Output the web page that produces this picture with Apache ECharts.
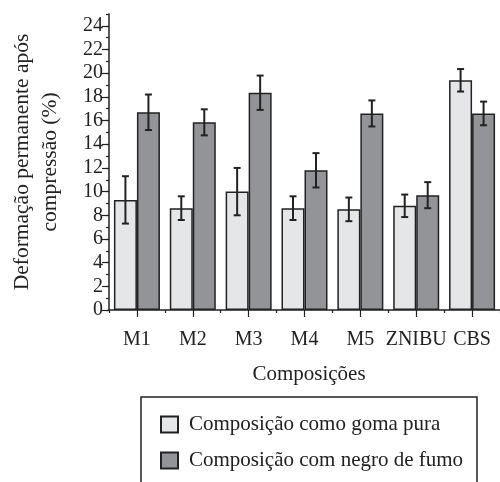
<!DOCTYPE html>
<html><head><meta charset="utf-8">
<script src="https://cdn.jsdelivr.net/npm/echarts@6/dist/echarts.min.js"></script>
<style>html,body{margin:0;padding:0;background:#fff}#c{width:500px;height:482px}</style>
</head><body><div id="c"></div>
<script>
const categories = ['M1','M2','M3','M4','M5','ZNIBU','CBS'];
const seriesNames = ['Composição como goma pura','Composição com negro de fumo'];
const pureValues = [9.3, 8.6, 10.0, 8.6, 8.5, 8.8, 19.4];
const pureErrors = [2.0, 1.0, 2.0, 1.0, 1.0, 0.95, 0.95];
const blackValues = [16.7, 15.85, 18.35, 11.8, 16.6, 9.7, 16.6];
const blackErrors = [1.5, 1.1, 1.45, 1.45, 1.1, 1.1, 1.0];
const yTitleLines = ['Deformação permanente após','compressão (%)'];
const xTitle = 'Composições';

const FONT = '"Liberation Serif","DejaVu Serif",serif';
const INK = '#222';
const BW = 23;

function errData(vals, errs){ return vals.map((v,i)=>[i, v-errs[i], v+errs[i]]); }
function errSeries(vals, errs, off){
  return {
    type:'custom', xAxisIndex:0, yAxisIndex:0, z:10,
    data: errData(vals, errs),
    encode:{x:0, y:[1,2]},
    renderItem:function(params, api){
      const lo = api.coord([api.value(0), api.value(1)]);
      const hi = api.coord([api.value(0), api.value(2)]);
      const x = lo[0] + off;
      const cw = 3.5;
      const st = {stroke:INK, lineWidth:2};
      return {type:'group', children:[
        {type:'line', shape:{x1:x,y1:lo[1],x2:x,y2:hi[1]}, style:st},
        {type:'line', shape:{x1:x-cw,y1:lo[1],x2:x+cw,y2:lo[1]}, style:st},
        {type:'line', shape:{x1:x-cw,y1:hi[1],x2:x+cw,y2:hi[1]}, style:st}
      ]};
    }
  };
}

const chart = echarts.init(document.getElementById('c'));
const gridTop = 14, gridBottom = 172;
const unit = (482 - gridTop - gridBottom) / 25;
chart.setOption({
  animation:false,
  textStyle:{fontFamily:FONT},
  grid:[
    {left:109, right:-8, top:gridTop, bottom:gridBottom},
    {left:109, right:-8, top:gridTop+unit, bottom:gridBottom}
  ],
  xAxis:[
    {type:'category', gridIndex:0, data:categories,
      axisLine:{lineStyle:{color:INK,width:1.5}},
      axisTick:{show:true, length:3, lineStyle:{color:INK,width:1.2}},
      axisLabel:{color:INK, fontFamily:FONT, fontSize:20, margin:20, interval:0}},
    {type:'category', gridIndex:0, data:categories, position:'bottom',
      axisLine:{show:false},
      axisTick:{show:true, alignWithLabel:true, length:7, lineStyle:{color:INK,width:1.2}},
      axisLabel:{show:false}},
    {type:'category', gridIndex:1, data:categories, show:false}
  ],
  yAxis:[
    {type:'value', gridIndex:0, min:0, max:25, interval:1,
      axisLine:{show:true, lineStyle:{color:INK,width:1.5}},
      axisTick:{show:true, length:3, lineStyle:{color:INK,width:1.2}},
      splitLine:{show:false},
      axisLabel:{color:INK, fontFamily:FONT, fontSize:20, margin:6,
        formatter:function(v){return (v%2===0 && v<=24) ? String(v) : '';}}},
    {type:'value', gridIndex:1, min:0, max:24, interval:2,
      axisLine:{show:false},
      axisTick:{show:true, length:7, lineStyle:{color:INK,width:1.2}},
      splitLine:{show:false}, axisLabel:{show:false}}
  ],
  legend:{
    orient:'vertical', left:155, top:409, itemGap:15,
    itemWidth:17, itemHeight:16, icon:'rect',
    textStyle:{color:INK, fontFamily:FONT, fontSize:21, padding:[0,0,0,6]},
    data:seriesNames
  },
  graphic:[
    {type:'rect', shape:{x:141, y:397, width:336, height:100}, style:{fill:'none', stroke:INK, lineWidth:1.5}},
    {type:'text', x:22, y:162, rotation:Math.PI/2, style:{text:yTitleLines[0], font:'21.5px '+FONT, fill:INK, align:'center', verticalAlign:'middle'}},
    {type:'text', x:50, y:162, rotation:Math.PI/2, style:{text:yTitleLines[1], font:'21.5px '+FONT, fill:INK, align:'center', verticalAlign:'middle'}},
    {type:'text', x:309, y:374, style:{text:xTitle, font:'21px '+FONT, fill:INK, align:'center', verticalAlign:'middle'}}
  ],
  series:[
    {name:seriesNames[0], type:'bar', xAxisIndex:0, yAxisIndex:0, barWidth:BW, barGap:'0%',
      data:pureValues, itemStyle:{color:'#e5e6e8', borderColor:INK, borderWidth:1.5}},
    {name:seriesNames[1], type:'bar', xAxisIndex:0, yAxisIndex:0, barWidth:BW, barGap:'0%',
      data:blackValues, itemStyle:{color:'#939497', borderColor:INK, borderWidth:1.5}},
    errSeries(pureValues, pureErrors, -BW/2),
    errSeries(blackValues, blackErrors, BW/2)
  ]
});
</script></body></html>
